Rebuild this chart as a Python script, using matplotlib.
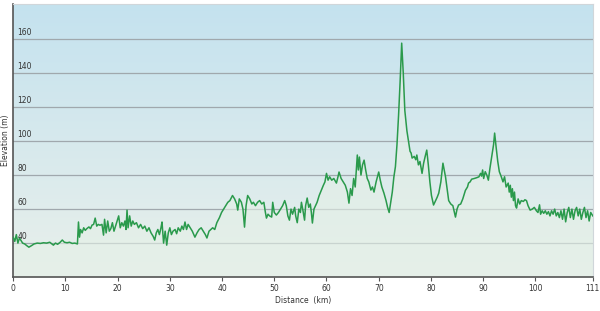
import numpy as np
import matplotlib
matplotlib.use("Agg")
import matplotlib.pyplot as plt

# elevation profile (km, m)
dist_km = [0, 0.3, 0.6, 0.9, 1.2, 1.5, 1.8, 2.2, 2.6, 3.0, 3.5, 4.0, 4.6, 5.2, 5.8, 6.4, 7.0, 7.4, 7.7, 8.1,
           8.5, 9.0, 9.4, 9.8, 10.3, 10.8, 11.3, 11.8, 12.3, 12.5, 12.7, 12.9, 13.2, 13.5, 13.8, 14.1, 14.5,
           14.8, 15.1, 15.4, 15.7, 16.0, 16.3, 16.6, 17.0, 17.3, 17.5, 17.8, 18.1, 18.4, 18.7, 19.0, 19.3,
           19.6, 19.9, 20.2, 20.5, 20.8, 21.1, 21.4, 21.6, 21.8, 22.0, 22.3, 22.6, 22.9, 23.2, 23.6, 24.0,
           24.4, 24.8, 25.2, 25.6, 26.0, 26.4, 26.8, 27.1, 27.4, 27.7, 28.0, 28.3, 28.5, 28.8, 29.1, 29.4,
           29.7, 30.0, 30.3, 30.6, 31.0, 31.3, 31.6, 32.0, 32.3, 32.6, 32.9, 33.2, 33.5, 33.9, 34.3, 34.8,
           35.2, 35.6, 36.0, 36.4, 36.8, 37.1, 37.5, 38.2, 38.6, 39.0, 39.5, 39.9, 40.3, 40.7, 41.1, 41.5,
           42.0, 42.4, 42.8, 43.0, 43.3, 43.7, 44.0, 44.3, 44.6, 44.9, 45.3, 45.7, 46.0, 46.4, 46.8, 47.2,
           47.6, 48.0, 48.3, 48.5, 48.8, 49.1, 49.5, 49.7, 50.0, 50.4, 50.8, 51.2, 51.6, 52.0, 52.3, 52.6,
           52.9, 53.2, 53.5, 53.9, 54.1, 54.4, 54.7, 55.0, 55.2, 55.5, 55.8, 56.0, 56.3, 56.6, 56.9, 57.1,
           57.3, 57.6, 57.9, 58.2, 58.6, 59.0, 59.4, 59.7, 60.0, 60.3, 60.6, 61.0, 61.4, 61.9, 62.2, 62.4,
           62.8, 63.2, 63.6, 64.0, 64.3, 64.6, 64.9, 65.2, 65.5, 65.9, 66.1, 66.3, 66.6, 66.9, 67.2, 67.5,
           67.8, 68.1, 68.5, 68.8, 69.1, 69.5, 70.0, 70.3, 70.6, 71.0, 71.4, 71.7, 72.0, 72.3, 72.6, 72.9,
           73.2, 73.5, 73.8, 74.1, 74.4, 74.7, 75.0, 75.4, 75.7, 76.0, 76.2, 76.4, 76.8, 77.1, 77.3, 77.6,
           77.9, 78.3, 78.6, 78.9, 79.2, 79.5, 79.8, 80.1, 80.5, 80.9, 81.2, 81.5, 81.9, 82.3, 82.6, 82.8,
           83.1, 83.4, 83.8, 84.2, 84.5, 84.7, 85.0, 85.3, 85.7, 86.1, 86.6, 87.0, 87.2, 87.5, 87.8, 88.3,
           88.8, 89.2, 89.5, 89.7, 89.9, 90.1, 90.4, 90.7, 91.0, 91.3, 91.7, 92.0, 92.2, 92.5, 92.8, 93.1,
           93.5, 93.8, 94.1, 94.4, 94.8, 95.0, 95.2, 95.4, 95.6, 95.8, 96.0, 96.2, 96.4, 96.7, 97.0, 97.3,
           97.7, 98.0, 98.3, 98.6, 99.0, 99.4, 99.8, 100.2, 100.5, 100.8, 101.0, 101.3, 101.6, 101.9, 102.2,
           102.5, 102.8, 103.1, 103.4, 103.7, 104.0, 104.3, 104.6, 104.9, 105.2, 105.5, 105.8, 106.1, 106.4,
           106.7, 107.0, 107.3, 107.6, 107.9, 108.2, 108.5, 108.8, 109.1, 109.4, 109.7, 110.0, 110.3, 110.6,
           111.0]
elev_m = [43.5, 41, 45, 40, 43, 41.5, 40, 39.5, 38.5, 37.6, 38.5, 39.5, 40, 39.8, 40.2, 40, 40.5, 39.5, 38.8, 40,
          39.3, 40.5, 41.8, 40.5, 40.2, 40.5, 39.8, 40, 39.5, 52.4, 43.5, 48, 46, 49, 47.5, 48.5, 49.5,
          48.5, 50.6, 51, 54.7, 50, 51, 50.5, 51, 44.7, 54, 46, 53, 47, 48.5, 52, 47,
          50, 53, 56, 49, 52, 50, 53, 48, 59.4, 49, 56, 50, 53, 51, 52, 49,
          51, 48.5, 50, 47, 49, 46, 44, 41.8, 46, 48, 45, 49, 52.4, 40, 47, 38.8,
          46, 49, 45, 47, 48, 45.5, 49, 47, 50, 48, 52.4, 48, 51, 49, 47, 43.5,
          46, 48, 49, 47, 45, 43, 47, 49, 48, 52, 55, 58, 60, 62, 64, 65,
          68, 66, 63, 59.4, 66, 64, 60, 49.4, 62, 68, 66, 63, 64, 62, 64, 65,
          63, 64, 58, 54.7, 57, 56, 55.3, 64, 58, 56.5, 58, 60, 62, 65, 62, 56,
          53.5, 60, 57, 61, 56, 52, 60, 58, 64, 59, 53.5, 62, 66.5, 61, 63, 58,
          51.8, 60, 62, 64, 68, 71, 74, 76, 81, 77, 79, 77, 78, 75.3, 79, 81.8,
          78, 76, 74, 70, 63.5, 72, 68, 78, 73, 91.8, 83, 90.6, 80, 86, 88.8, 83,
          78, 76, 71.2, 73, 70, 76, 81.8, 77, 73, 69.4, 65, 61, 58, 64, 70, 78.8,
          85, 98, 115, 135, 157.6, 140, 118, 106, 100, 94, 93, 90, 91, 89, 91.8, 86,
          88, 81, 87, 91, 94.7, 86, 76, 68, 62.4, 65, 67, 69.4, 76, 87, 82, 78.8,
          72, 65, 63, 62, 58, 55.3, 60, 62.4, 63, 66, 71, 73, 75.3, 76, 77.6, 78,
          78.5, 79, 81, 79.4, 83, 78, 82, 80, 77, 84, 92, 98, 104.7, 96, 88, 82,
          78.8, 76, 79, 73, 75.3, 70, 74, 67, 72, 65, 70, 62, 60.6, 66, 63, 65,
          64.5, 65.5, 65, 62, 59.4, 60, 61, 59, 58, 62.5, 57, 59, 57.5, 59, 57,
          58.5, 56, 59, 57, 60, 56, 58, 55, 59, 54, 60, 52.5, 58, 61,
          55, 60, 54, 59, 61, 56, 60, 54, 58, 61, 55, 59, 53, 58,
          56]

x_ticks = [0, 10, 20, 30, 40, 50, 60, 70, 80, 90, 100, 111]
y_ticks = [40, 60, 80, 100, 120, 140, 160]

fig = plt.figure(figsize=(6, 3.11), dpi=100)
ax = fig.add_axes([0.022, 0.109, 0.966, 0.878])
ax.set_xlim(0, 111)
ax.set_ylim(20, 180.6)

# background gradient, light blue at top to pale green-grey at bottom
top = np.array([196, 226, 239]) / 255
bot = np.array([233, 240, 235]) / 255
t = np.linspace(0, 1, 256)[:, None]
grad = (top * (1 - t) + bot * t)[:, None, :]
ax.imshow(grad, extent=[0, 111, 20, 180.6], aspect="auto", zorder=0)

for y in y_ticks:
    ax.axhline(y, color="#a0a8ad", lw=0.9, zorder=1)
    ax.text(0.8, y + 1.5, str(y), fontsize=5.5, color="#333333", va="bottom", ha="left", zorder=4)

ax.fill_between(dist_km, 20, elev_m, color="#e4f0e6", alpha=0.6, zorder=2, lw=0)
ax.plot(dist_km, elev_m, color="#2a9a4c", lw=1.1, zorder=3)

ax.set_xticks(x_ticks)
ax.set_xticklabels([str(v) for v in x_ticks], fontsize=5.5, color="#333333")
ax.set_yticks([])
ax.tick_params(axis="x", length=3, width=0.8, color="#555555", pad=2)
ax.set_xlabel("Distance  (km)", fontsize=5.5, color="#333333", labelpad=2)
ax.set_ylabel("Elevation (m)", fontsize=5.5, color="#333333", labelpad=2)

for s in ["left", "bottom"]:
    ax.spines[s].set_color("#555555")
    ax.spines[s].set_linewidth(1.2)
for s in ["top", "right"]:
    ax.spines[s].set_color("#d0d6da")
    ax.spines[s].set_linewidth(0.8)

fig.savefig("out.png", dpi=100)
